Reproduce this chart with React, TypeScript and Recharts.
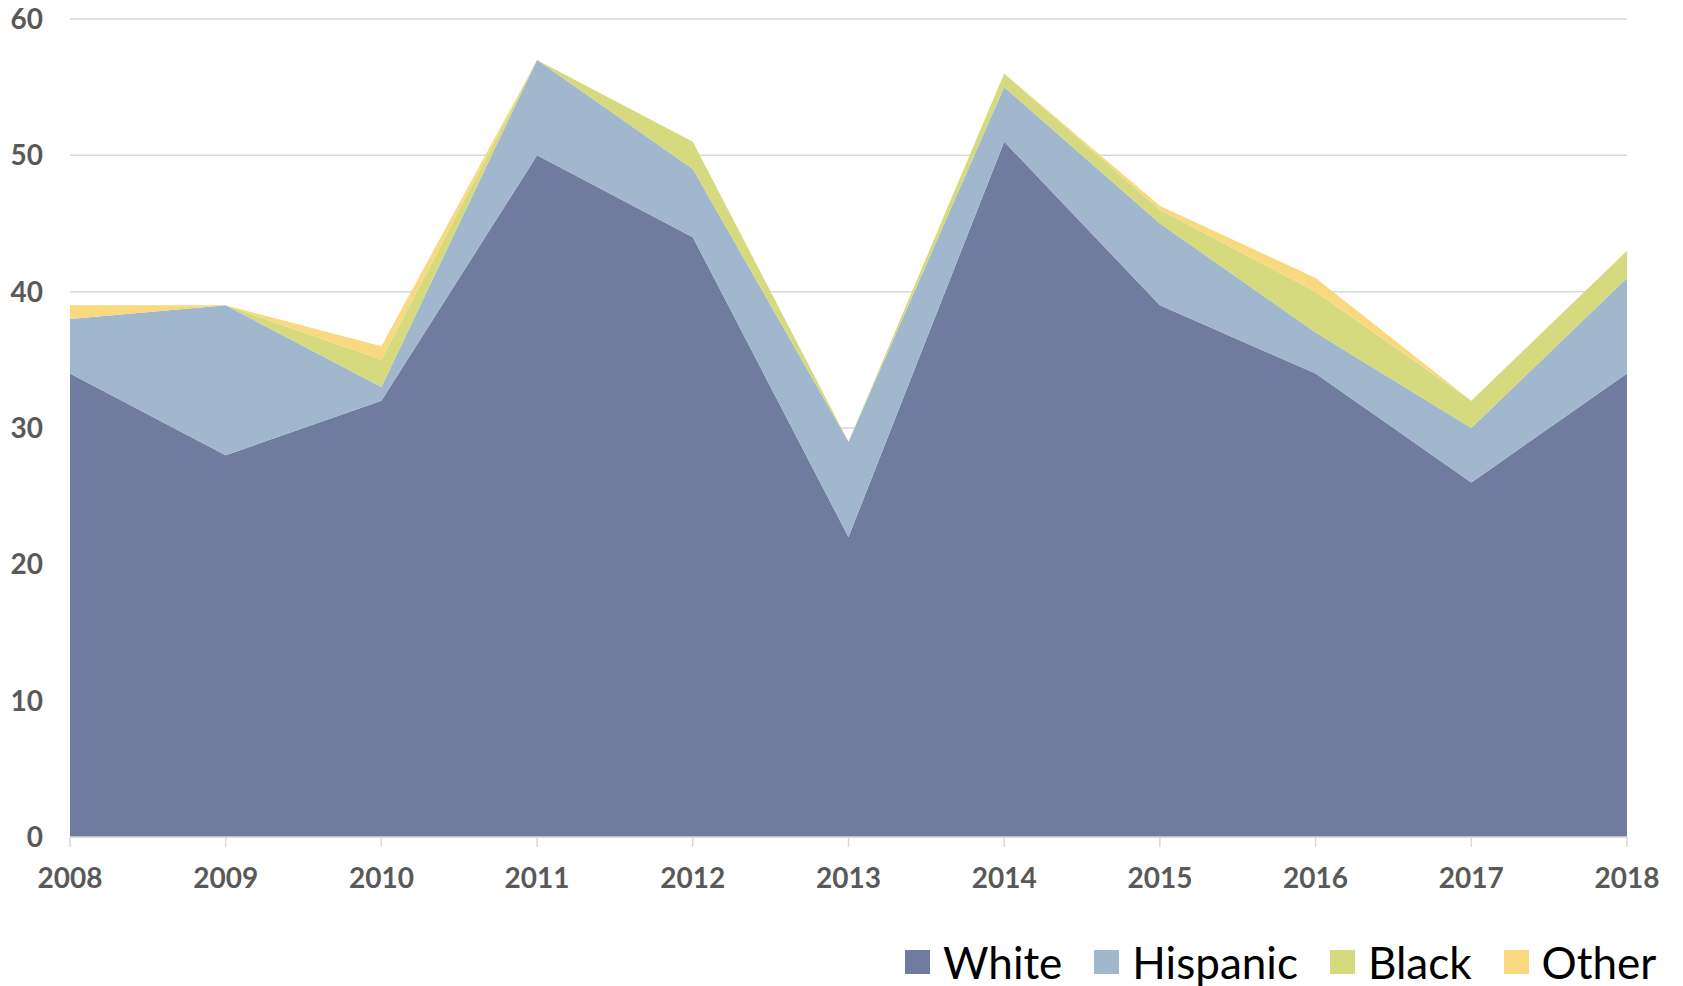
import { AreaChart, Area, XAxis, YAxis, CartesianGrid, Legend } from 'recharts';

const years = ['2008', '2009', '2010', '2011', '2012', '2013', '2014', '2015', '2016', '2017', '2018'];
const white = [34, 28, 32, 50, 44, 22, 51, 39, 34, 26, 34];
const hispanic = [4, 11, 1, 7, 5, 7, 4, 6, 3, 4, 7];
const black = [0, 0, 2, 0, 2, 0, 1, 1, 3, 2, 2];
const other = [1, 0, 1, 0, 0, 0, 0, 0.3, 1, 0, 0];
const yTicks = [0, 10, 20, 30, 40, 50, 60];

const series = [
  { key: 'White', color: '#717BA0' },
  { key: 'Hispanic', color: '#A1B7CD' },
  { key: 'Black', color: '#D4DA7D' },
  { key: 'Other', color: '#F9D97F' },
];

const data = years.map((year, i) => ({
  year,
  White: white[i],
  Hispanic: hispanic[i],
  Black: black[i],
  Other: other[i],
}));

const tickFont = { fontFamily: 'Lato', fontWeight: 700, fontSize: 28, fill: '#595959' };

function LegendContent() {
  return (
    <div style={{ display: 'flex', alignItems: 'center', fontFamily: 'Lato', fontSize: 44, color: '#000' }}>
      {series.map((s, i) => (
        <div key={s.key} style={{ display: 'flex', alignItems: 'center', marginLeft: i === 0 ? 0 : 32 }}>
          <span style={{ width: 25, height: 24, background: s.color, display: 'inline-block', marginRight: 13 }} />
          <span style={{ lineHeight: '50px' }}>{s.key}</span>
        </div>
      ))}
    </div>
  );
}

export default function App() {
  return (
    <div style={{ position: 'absolute', left: 0, top: 0, background: '#fff' }}>
      <AreaChart width={1683} height={986} data={data} margin={{ left: 0, right: 56, top: 19, bottom: 109 }}>
        <CartesianGrid vertical={false} stroke="#D9D9D9" strokeWidth={1.5} />
        <XAxis
          dataKey="year"
          height={40}
          axisLine={{ stroke: '#D9D9D9', strokeWidth: 1.5 }}
          tickLine={{ stroke: '#D9D9D9', strokeWidth: 1.5 }}
          tickSize={10}
          tickMargin={21}
          tick={tickFont}
          interval={0}
        />
        <YAxis
          width={70}
          domain={[0, 60]}
          ticks={yTicks}
          axisLine={false}
          tickLine={false}
          tickSize={0}
          tickMargin={27}
          tick={tickFont}
        />
        <Legend
          layout="horizontal"
          verticalAlign="middle"
          align="center"
          content={LegendContent}
          wrapperStyle={{ position: 'absolute', left: 905, top: 937, width: 'auto' }}
        />
        {series.map((s) => (
          <Area
            key={s.key}
            type="linear"
            dataKey={s.key}
            stackId="1"
            stroke="none"
            fill={s.color}
            fillOpacity={1}
            isAnimationActive={false}
          />
        ))}
      </AreaChart>
    </div>
  );
}
